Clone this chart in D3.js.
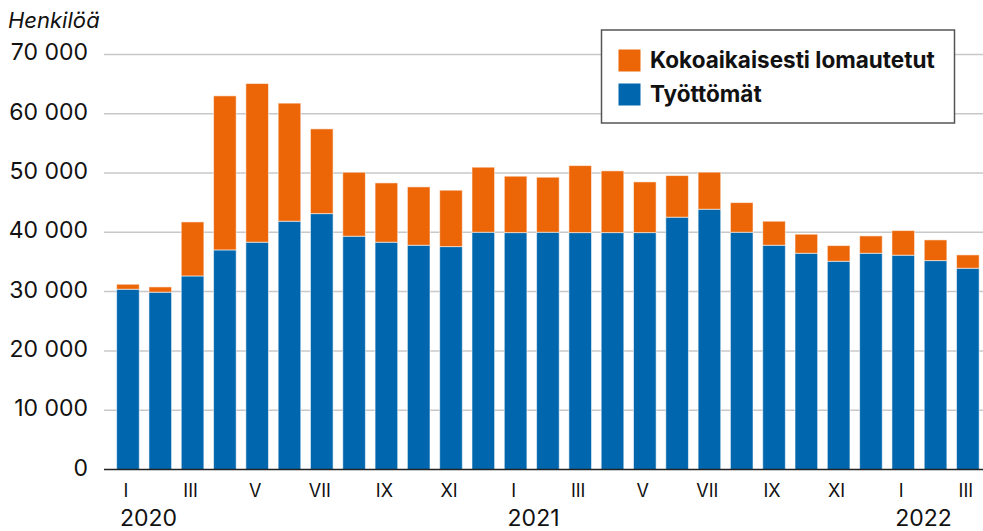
<!DOCTYPE html>
<html lang="fi">
<head>
    <meta charset="UTF-8">
    <script src="https://d3js.org/d3.v7.min.js"></script>
    <title>Työttömät ja lomautetut</title>
    <style>
        body { margin: 0; background: #fff; font-family: Inter, "Liberation Sans", Arial, sans-serif; }
        svg { display: block; }
    </style>
</head>
<body>
    <svg id="chart" width="983" height="531"></svg>

    <script>
        // Kuukaudet I/2020 - III/2022
        const months = ["I","II","III","IV","V","VI","VII","VIII","IX","X","XI","XII",
                        "I","II","III","IV","V","VI","VII","VIII","IX","X","XI","XII",
                        "I","II","III"];
        const years = ["2020","2021","2022"];

        // Työttömät (blue)
        const tyottomat = [30400, 29900, 32640, 37030, 38330, 41870, 43150, 39340, 38330, 37820, 37590, 40010,
                           39950, 40010, 39950, 39950, 39950, 42550, 43890, 40010, 37820, 36470, 35120, 36470,
                           36140, 35230, 33940];
        // Kokoaikaisesti lomautetut (orange)
        const lomautetut = [840, 890, 9110, 25980, 26760, 19910, 14290, 10790, 10000, 9840, 9510, 10970,
                            9510, 9280, 11300, 10410, 8550, 7020, 6250, 5000, 4050, 3210, 2640, 2920,
                            4150, 3490, 2250];

        const yTicks = [0, 10000, 20000, 30000, 40000, 50000, 60000, 70000];
        const seriesNames = ["Kokoaikaisesti lomautetut", "Työttömät"];
        const colors = { tyottomat: "#0067ae", lomautetut: "#ec6608" };

        const svg = d3.select("#chart");

        const x = d3.scaleBand()
            .domain(d3.range(months.length))
            .range([111.8, 984])
            .paddingInner(0.3)
            .paddingOuter(0.15);

        const y = d3.scaleLinear()
            .domain([0, 70000])
            .range([469.5, 54.4]);

        const fmt = v => d3.format(",")(v).replace(/,/g, " ");

        // gridlines
        svg.append("g")
            .selectAll("line")
            .data(yTicks.filter(d => d > 0))
            .join("line")
            .attr("x1", 104)
            .attr("x2", 983)
            .attr("y1", d => y(d))
            .attr("y2", d => y(d))
            .attr("stroke", "#c8c8c8")
            .attr("stroke-width", 1.5);

        // y labels
        svg.append("g")
            .selectAll("text")
            .data(yTicks)
            .join("text")
            .attr("x", 88)
            .attr("y", d => y(d) + 6)
            .attr("text-anchor", "end")
            .attr("font-size", 23)
            .attr("fill", "#111")
            .text(fmt);

        svg.append("text")
            .attr("x", 8)
            .attr("y", 28)
            .attr("font-size", 22)
            .attr("font-style", "italic")
            .attr("fill", "#111")
            .text("Henkilöä");

        // stacked bars
        const rows = months.map((m, i) => ({ i, tyottomat: tyottomat[i], lomautetut: lomautetut[i] }));
        const stack = d3.stack().keys(["tyottomat", "lomautetut"])(rows);

        svg.append("g")
            .selectAll("g")
            .data(stack)
            .join("g")
            .attr("fill", d => colors[d.key])
            .selectAll("rect")
            .data(d => d)
            .join("rect")
            .attr("x", d => x(d.data.i))
            .attr("width", x.bandwidth())
            .attr("y", d => y(d[1]))
            .attr("height", d => y(d[0]) - y(d[1]))
            .attr("stroke", "#fff")
            .attr("stroke-opacity", 0.55)
            .attr("stroke-width", 1);

        // zero line
        svg.append("line")
            .attr("x1", 104)
            .attr("x2", 983)
            .attr("y1", y(0))
            .attr("y2", y(0))
            .attr("stroke", "#222")
            .attr("stroke-width", 1.5);

        // x labels, every other month
        svg.append("g")
            .selectAll("text")
            .data(months.map((m, i) => ({ m, i })).filter(d => d.i % 2 === 0))
            .join("text")
            .attr("x", d => x(d.i) + x.bandwidth() / 2 - 2)
            .attr("y", 497)
            .attr("text-anchor", "middle")
            .attr("font-size", 18)
            .attr("fill", "#111")
            .text(d => d.m);

        svg.append("g")
            .selectAll("text")
            .data(years)
            .join("text")
            .attr("x", (d, k) => x(k * 12) + x.bandwidth() / 2 - 8)
            .attr("y", 526)
            .attr("font-size", 23)
            .attr("fill", "#111")
            .text(d => d);

        // legend
        const legend = svg.append("g");
        legend.append("rect")
            .attr("x", 601.5)
            .attr("y", 30)
            .attr("width", 353)
            .attr("height", 93)
            .attr("fill", "#fff")
            .attr("stroke", "#555")
            .attr("stroke-width", 1.5);

        const legendColors = [colors.lomautetut, colors.tyottomat];
        seriesNames.forEach((name, k) => {
            legend.append("rect")
                .attr("x", 618.5)
                .attr("y", 49.5 + k * 34)
                .attr("width", 22)
                .attr("height", 22)
                .attr("fill", legendColors[k]);
            legend.append("text")
                .attr("x", 650)
                .attr("y", 67.5 + k * 34)
                .attr("font-size", 22.5)
                .attr("font-weight", "bold")
                .attr("fill", "#111")
                .text(name);
        });
    </script>
</body>
</html>
